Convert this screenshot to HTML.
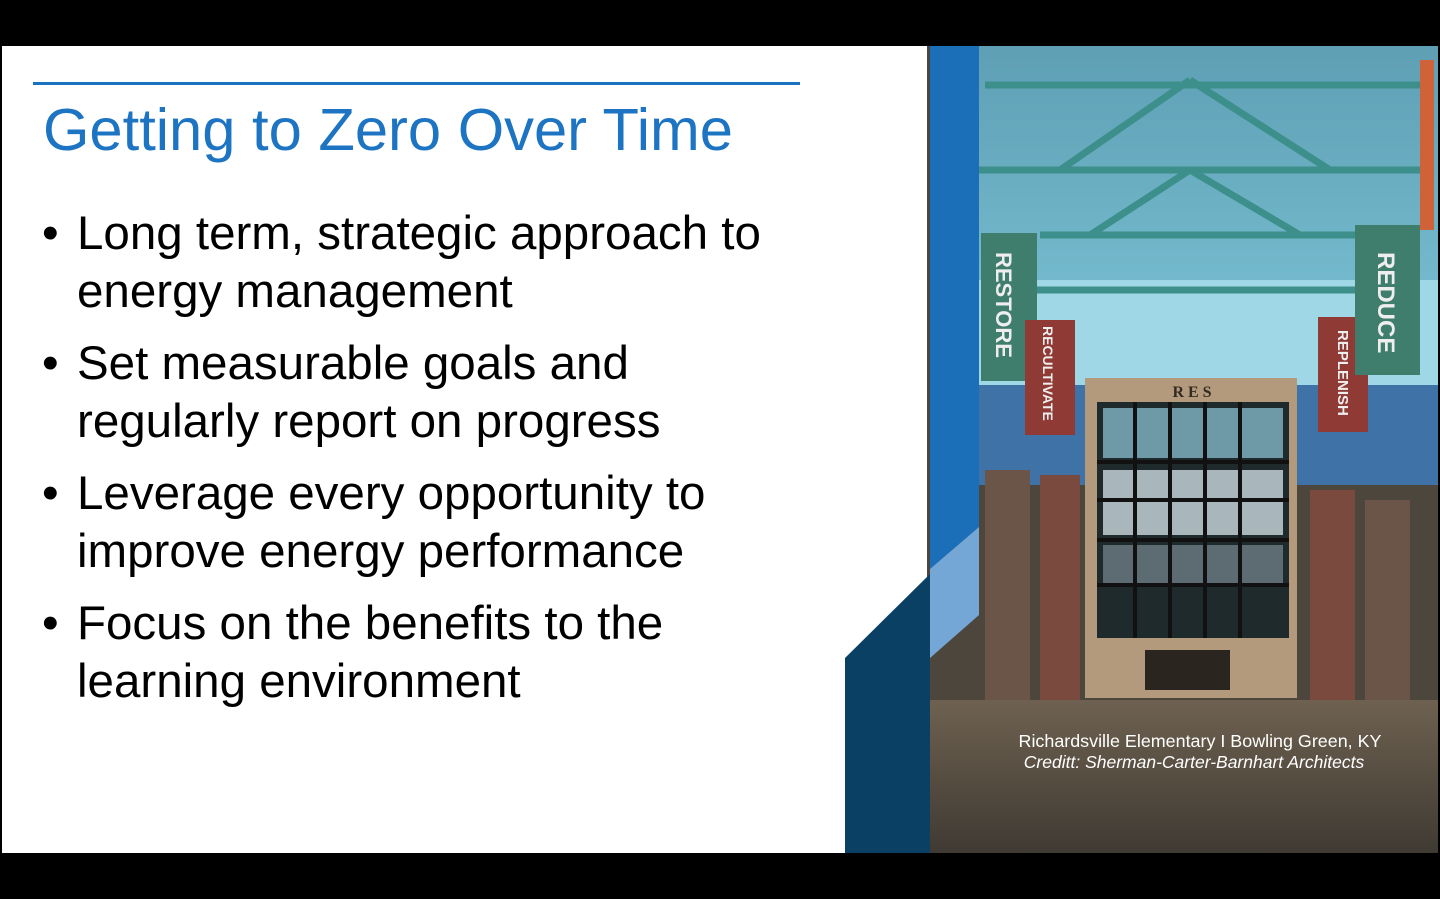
<!DOCTYPE html>
<html><head><meta charset="utf-8"><style>
body{margin:0;width:1440px;height:899px;background:#000;position:relative;overflow:hidden;font-family:"Liberation Sans",Arial,sans-serif}
.slide{position:absolute;left:2px;top:46px;width:1436px;height:807px;background:#fff}
.t{position:absolute;white-space:nowrap}
.b{position:absolute;left:42px;font-size:47.5px;line-height:58px;color:#000;white-space:nowrap}
.b span{position:absolute;left:0}
.b div{padding-left:35px}
</style></head><body>
<div class="slide"></div>
<div style="position:absolute;left:33px;top:82px;width:767px;height:3px;background:#1a73c0"></div>
<div class="t" style="left:43px;top:100px;font-size:59.7px;line-height:59.7px;color:#1c74c2">Getting to Zero Over Time</div>
<div>
<div class="b" style="top:205px"><span>•</span><div>Long term, strategic approach to</div><div>energy management</div></div>
<div class="b" style="top:335px"><span>•</span><div>Set measurable goals and</div><div>regularly report on progress</div></div>
<div class="b" style="top:465px"><span>•</span><div>Leverage every opportunity to</div><div>improve energy performance</div></div>
<div class="b" style="top:595px"><span>•</span><div>Focus on the benefits to the</div><div>learning environment</div></div>
</div>
<svg style="position:absolute;left:0;top:0" width="1440" height="899">
<defs>
<linearGradient id="ceil" x1="0" y1="0" x2="0" y2="1"><stop offset="0" stop-color="#5e9fb4"/><stop offset="1" stop-color="#7cc3d6"/></linearGradient>
<linearGradient id="floor" x1="0" y1="0" x2="0" y2="1"><stop offset="0" stop-color="#6e6150"/><stop offset="1" stop-color="#3f3a33"/></linearGradient>
</defs>
<g>
<rect x="927" y="46" width="511" height="807" fill="#4d463d"/>
<rect x="979" y="46" width="459" height="330" fill="url(#ceil)"/>
<rect x="979" y="280" width="459" height="120" fill="#9fd7e6"/>
<g stroke="#3c8f8a" stroke-width="7" fill="none">
<path d="M979 170 L1430 170 M985 85 L1430 85 M1000 290 L1420 290 M1040 235 L1380 235 M1190 80 L1060 170 M1190 80 L1330 170 M1190 170 L1090 235 M1190 170 L1300 235"/>
</g>
<rect x="979" y="385" width="459" height="100" fill="#3f73a8"/>
<rect x="1085" y="378" width="212" height="320" fill="#b39a7c"/>
<rect x="1097" y="402" width="192" height="236" fill="#1e2a2c"/>
<g fill="#6d9aa6"><rect x="1103" y="408" width="180" height="50"/></g>
<g fill="#a9b6bb"><rect x="1103" y="470" width="180" height="65"/></g>
<g fill="#5d6c72"><rect x="1103" y="545" width="180" height="40"/></g>
<g stroke="#111" stroke-width="4"><path d="M1135 402V638M1170 402V638M1205 402V638M1240 402V638M1097 462H1289M1097 500H1289M1097 540H1289M1097 585H1289"/></g>
<text x="1192" y="397" font-size="16" font-weight="bold" font-family="Liberation Serif,serif" fill="#332a22" text-anchor="middle">R E S</text>
<rect x="985" y="470" width="45" height="240" fill="#6b5448"/>
<rect x="1040" y="475" width="40" height="230" fill="#7a4a3e"/>
<rect x="1310" y="490" width="45" height="220" fill="#7a4a3e"/>
<rect x="1365" y="500" width="45" height="220" fill="#6b5448"/>
<rect x="927" y="700" width="511" height="153" fill="url(#floor)"/>
<rect x="1145" y="650" width="85" height="40" fill="#2b2520"/>
<rect x="981" y="233" width="56" height="148" fill="#3f7d6c"/>
<text transform="translate(996,252) rotate(90)" font-size="22" font-weight="bold" fill="#eee">RESTORE</text>
<rect x="1025" y="320" width="50" height="115" fill="#8f3a35"/>
<text transform="translate(1043,326) rotate(90)" font-size="14" font-weight="bold" fill="#eee">RECULTIVATE</text>
<rect x="1318" y="317" width="50" height="115" fill="#8f3a35"/>
<text transform="translate(1338,330) rotate(90)" font-size="15" font-weight="bold" fill="#eee">REPLENISH</text>
<rect x="1355" y="225" width="65" height="150" fill="#3f7d6c"/>
<text transform="translate(1378,252) rotate(90)" font-size="24" font-weight="bold" fill="#eee">REDUCE</text>
<rect x="1420" y="60" width="14" height="170" fill="#d0623a"/>
<text x="1200" y="747" font-size="17.9" fill="#fff" text-anchor="middle">Richardsville Elementary I Bowling Green, KY</text>
<text x="1194" y="768" font-size="17.5" font-style="italic" fill="#fff" text-anchor="middle">Creditt: Sherman-Carter-Barnhart Architects</text>
</g>
<polygon points="930,46 979,46 979,527 930,569" fill="#1b6fb8"/>
<polygon points="979,527 979,615 930,658 930,569" fill="#74a7d6"/>
<polygon points="845,658 930,574 930,853 845,853" fill="#0a4064"/>
</svg>
</body></html>
